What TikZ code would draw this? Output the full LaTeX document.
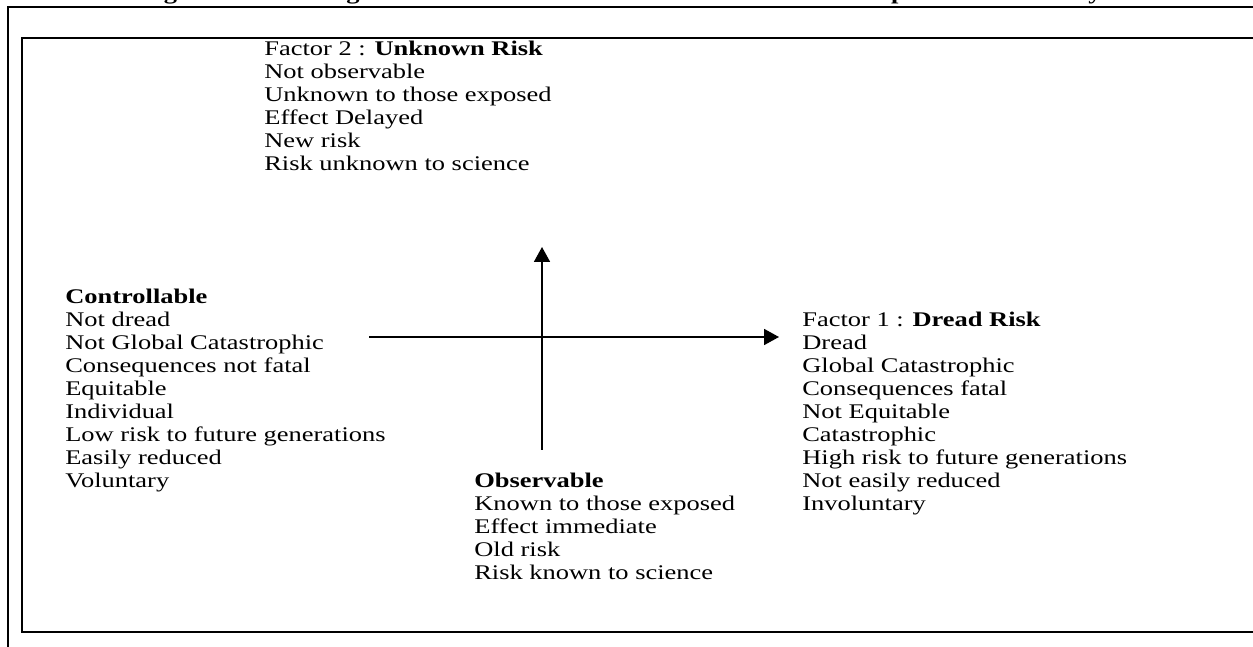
\documentclass[tikz,border=0pt]{standalone}
\usepackage{fontspec}
\setmainfont{Liberation Serif}[FakeStretch=1.27]
\usetikzlibrary{arrows.meta}
\begin{document}
\begin{tikzpicture}[x=0.6pt,y=-0.6pt,
  txt/.style={anchor=north west,inner sep=0pt,align=left,font=\fontsize{12.5}{13.8}\selectfont},
  frame/.style={line width=1.5pt},
  innerframe/.style={line width=1.2pt},
  axis/.style={line width=1.1pt,-{Triangle[length=9pt,width=9.6pt]}}]
\useasboundingbox (0,0) rectangle (1253,647);
\begin{scope}
\clip (0,0) rectangle (1253,647);
\node[anchor=base west,inner sep=0pt,font=\fontsize{12.5}{13.8}\selectfont\bfseries] (title) at (140,-0.5)
  {Figure 1: Modeling various Characteristics Relevant to Risk Perceptions on Two Key Factors};
\draw[frame] (1260,7) -- (8,7) -- (8,652);
\draw[innerframe] (1260,38) -- (22,38) -- (22,632) -- (1260,632);
\end{scope}
% text blocks
\node[txt] (unknown) at (264,39) {\strut Factor 2 : \textbf{Unknown Risk}\\
  Not observable\\ Unknown to those exposed\\ Effect Delayed\\ New risk\\ Risk unknown to science};
\node[txt] (ctrl) at (65,287) {\strut\textbf{Controllable}\\ Not dread\\ Not Global Catastrophic\\
  Consequences not fatal\\ Equitable\\ Individual\\ Low risk to future generations\\
  Easily reduced\\ Voluntary};
\node[txt] (dread) at (802,310) {\strut Factor 1 : \textbf{Dread Risk}\\ Dread\\ Global Catastrophic\\
  Consequences fatal\\ Not Equitable\\ Catastrophic\\ High risk to future generations\\
  Not easily reduced\\ Involuntary};
\node[txt] (obs) at (474,471) {\strut\textbf{Observable}\\ Known to those exposed\\
  Effect immediate\\ Old risk\\ Risk known to science};
% axes
\coordinate (hs) at (369,337);
\coordinate (he) at (779,337);
\coordinate (vs) at (542,450);
\coordinate (ve) at (542,247);
\draw[axis] (hs) -- (he);
\draw[axis] (vs) -- (ve);
\end{tikzpicture}
\end{document}
